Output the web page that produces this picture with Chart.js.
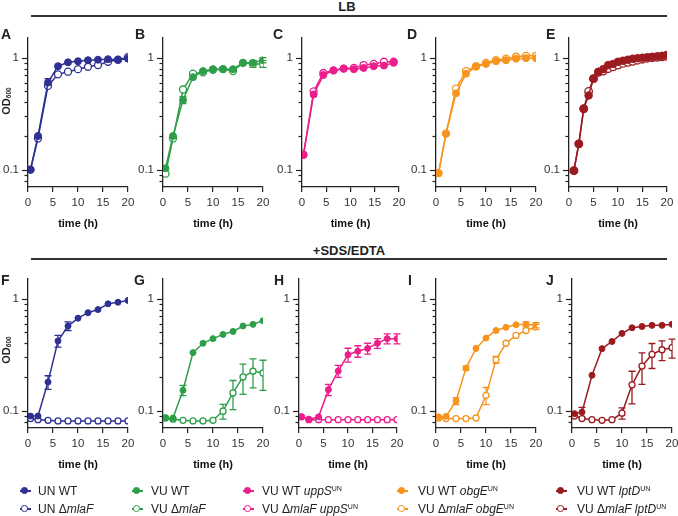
<!DOCTYPE html>
<html>
<head>
<meta charset="utf-8">
<script src="https://cdn.jsdelivr.net/npm/chart.js@4.4.1/dist/chart.umd.min.js"></script>
<style>
body{margin:0;background:#fff;font-family:"Liberation Sans",Arial,sans-serif;color:#222;}
#wrap{position:relative;width:678px;height:516px;overflow:hidden;}
canvas{position:absolute;}
.t{position:absolute;white-space:nowrap;line-height:1;}
.let{font-weight:bold;font-size:14px;}
.head{font-weight:bold;font-size:13px;width:200px;text-align:center;}
.rule{position:absolute;height:1.5px;background:#333;}
.od{position:absolute;width:44px;height:14px;line-height:14px;text-align:center;font-weight:bold;font-size:11px;transform:rotate(-90deg);}
.od sub{font-size:6.5px;vertical-align:-1px;}
.leg{font-size:12px;line-height:12px;height:12px;}
.leg sup{font-size:7px;vertical-align:4px;line-height:0;}
.mline{position:absolute;width:11px;height:1.5px;}
.mdot{position:absolute;width:4.5px;height:4.5px;border-radius:50%;border:1.3px solid;}
</style>
</head>
<body>
<div id="wrap"></div>
<script>
// tijdspunter (h)
var tStd = [0.5, 2, 4, 6, 8, 10, 12, 14, 16, 18, 20];
var tC = [0.3, 2.4, 4.4, 6.5, 8.6, 10.7, 12.7, 14.8, 16.9, 18.9];
var tE = [1, 2, 3, 4, 5, 6, 7, 8, 9, 10, 11, 12, 13, 14, 15, 16, 17, 18, 19, 20];

// LB
var A_wt  = [0.10, 0.20, 0.60, 0.84, 0.91, 0.93, 0.95, 0.96, 0.97, 0.96, 0.98];
var A_mla = [0.10, 0.19, 0.56, 0.71, 0.75, 0.79, 0.83, 0.86, 0.92, 0.96, 1.01];
var A_wtSd = [0, 0, 0.05, 0, 0, 0, 0, 0, 0, 0, 0];
var B_wt  = [0.103, 0.20, 0.42, 0.67, 0.76, 0.79, 0.79, 0.79, 0.90, 0.90, 0.95];
var B_mla = [0.092, 0.19, 0.52, 0.72, 0.74, 0.78, 0.79, 0.76, 0.90, 0.88, 0.88];
var B_wtSd = [0, 0, 0.03, 0, 0, 0, 0, 0, 0, 0.04, 0.05];
var B_mlaSd = [0, 0, 0, 0, 0, 0, 0, 0, 0, 0.06, 0.06];
var C_wt  = [0.136, 0.47, 0.70, 0.77, 0.80, 0.79, 0.81, 0.84, 0.85, 0.90];
var C_mla = [0.136, 0.50, 0.73, 0.77, 0.80, 0.81, 0.86, 0.88, 0.92, 0.92];
var D_wt  = [0.093, 0.21, 0.48, 0.72, 0.83, 0.88, 0.93, 0.95, 0.98, 0.99, 0.99];
var D_mla = [0.093, 0.21, 0.53, 0.76, 0.84, 0.90, 0.95, 0.98, 1.02, 1.04, 1.04];
var E_wt  = [0.098, 0.17, 0.35, 0.46, 0.65, 0.75, 0.79, 0.86, 0.88, 0.92, 0.94, 0.96, 0.98, 0.99, 1.00, 1.01, 1.02, 1.03, 1.04, 1.06];
var E_mla = [0.098, 0.17, 0.35, 0.50, 0.65, 0.74, 0.76, 0.80, 0.83, 0.86, 0.89, 0.91, 0.93, 0.95, 0.97, 0.99, 1.00, 1.01, 1.02, 1.03];

// +SDS/EDTA
var F_wt  = [0.0895, 0.0895, 0.18, 0.42, 0.57, 0.67, 0.75, 0.80, 0.90, 0.93, 0.965];
var F_mla = [0.085, 0.083, 0.082, 0.081, 0.081, 0.081, 0.081, 0.081, 0.081, 0.081, 0.081];
var F_wtSd = [0, 0, 0.025, 0.05, 0.05, 0, 0, 0, 0, 0, 0];
var G_wt  = [0.086, 0.086, 0.152, 0.33, 0.40, 0.44, 0.48, 0.51, 0.57, 0.59, 0.635];
var G_mla = [0.086, 0.084, 0.082, 0.081, 0.081, 0.082, 0.099, 0.144, 0.20, 0.225, 0.217];
var G_wtSd = [0, 0, 0.016, 0, 0, 0, 0, 0, 0, 0, 0];
var G_mlaSd = [0, 0, 0, 0, 0, 0, 0.015, 0.042, 0.06, 0.065, 0.065];
var H_wt  = [0.088, 0.084, 0.088, 0.154, 0.226, 0.316, 0.34, 0.36, 0.40, 0.44, 0.44];
var H_mla = [0.088, 0.083, 0.083, 0.083, 0.083, 0.083, 0.083, 0.083, 0.083, 0.083, 0.083];
var H_wtSd = [0, 0, 0, 0.018, 0.028, 0.045, 0.04, 0.04, 0.04, 0.045, 0.045];
var I_wt  = [0.088, 0.089, 0.122, 0.24, 0.36, 0.445, 0.52, 0.555, 0.585, 0.59, 0.58];
var I_mla = [0.086, 0.085, 0.085, 0.085, 0.086, 0.137, 0.285, 0.40, 0.47, 0.52, 0.56];
var I_wtSd = [0, 0, 0.009, 0.01, 0, 0, 0, 0, 0, 0.03, 0.03];
var I_mlaSd = [0, 0, 0, 0, 0, 0.024, 0.02, 0, 0, 0, 0.03];
var J_wt  = [0.094, 0.097, 0.207, 0.358, 0.415, 0.49, 0.55, 0.565, 0.578, 0.578, 0.59];
var J_mla = [0.0895, 0.085, 0.083, 0.082, 0.083, 0.095, 0.17, 0.25, 0.318, 0.35, 0.365];
var J_wtSd = [0, 0.01, 0, 0, 0, 0, 0, 0, 0, 0, 0];
var J_mlaSd = [0, 0, 0, 0, 0, 0.011, 0.055, 0.078, 0.08, 0.07, 0.07];

var yTicks = [0.08, 0.09, 0.1, 0.2, 0.3, 0.4, 0.5, 0.6, 0.7, 0.8, 0.9, 1];
var xTicks = [0, 5, 10, 15, 20];

var blue = '#2e3192', green = '#2e9f48', pink = '#ec1e8c', orange = '#f7941d', red = '#9b1b1f';

// placering af paneler
var panels = [
  {k:'A', L:28,  W:100, top:38,  t:tStd, wt:A_wt, mla:A_mla, wtSd:A_wtSd, mlaSd:null, col:blue, r:3.5},
  {k:'B', L:163, W:100, top:38,  t:tStd, wt:B_wt, mla:B_mla, wtSd:B_wtSd, mlaSd:B_mlaSd, col:green, r:3.5},
  {k:'C', L:302, W:97,  top:38,  t:tC,   wt:C_wt, mla:C_mla, wtSd:null, mlaSd:null, col:pink, r:3.5},
  {k:'D', L:436, W:100, top:38,  t:tStd, wt:D_wt, mla:D_mla, wtSd:null, mlaSd:null, col:orange, r:3.5},
  {k:'E', L:569, W:98,  top:38,  t:tE,   wt:E_wt, mla:E_mla, wtSd:null, mlaSd:null, col:red, r:3.8},
  {k:'F', L:28,  W:100, top:279, t:tStd, wt:F_wt, mla:F_mla, wtSd:F_wtSd, mlaSd:null, col:blue, r:3},
  {k:'G', L:163, W:100, top:279, t:tStd, wt:G_wt, mla:G_mla, wtSd:G_wtSd, mlaSd:G_mlaSd, col:green, r:3},
  {k:'H', L:299, W:98,  top:279, t:tStd, wt:H_wt, mla:H_mla, wtSd:H_wtSd, mlaSd:null, col:pink, r:3},
  {k:'I', L:436, W:100, top:279, t:tStd, wt:I_wt, mla:I_mla, wtSd:I_wtSd, mlaSd:I_mlaSd, col:orange, r:3},
  {k:'J', L:572, W:100, top:279, t:tStd, wt:J_wt, mla:J_mla, wtSd:J_wtSd, mlaSd:J_mlaSd, col:red, r:3}
];

var padL = 30, padR = 12, padT = 8, plotH = 149, axH = 46;
var wrap = document.getElementById('wrap');

// fejlbarer tegnes via y-skalaen
var errPlugin = {
  id: 'errbars',
  beforeDatasetsDraw: function (chart) {
    var ctx = chart.ctx, ys = chart.scales.y;
    chart.data.datasets.forEach(function (ds, i) {
      if (!ds.sd) return;
      var meta = chart.getDatasetMeta(i);
      ctx.save();
      ctx.strokeStyle = ds.borderColor;
      ctx.lineWidth = 1.3;
      meta.data.forEach(function (pt, j) {
        var e = ds.sd[j];
        if (!e) return;
        var v = ds.data[j].y;
        var y1 = ys.getPixelForValue(v + e), y2 = ys.getPixelForValue(v - e);
        ctx.beginPath();
        ctx.moveTo(pt.x, y1); ctx.lineTo(pt.x, y2);
        ctx.moveTo(pt.x - 3.5, y1); ctx.lineTo(pt.x + 3.5, y1);
        ctx.moveTo(pt.x - 3.5, y2); ctx.lineTo(pt.x + 3.5, y2);
        ctx.stroke();
      });
      ctx.restore();
    });
  }
};

// y-aksens tick-streger (lange ved 0.1 og 1)
var yTickPlugin = {
  id: 'ytickmarks',
  afterDraw: function (chart) {
    var ctx = chart.ctx, ys = chart.scales.y, x0 = chart.chartArea.left;
    ctx.save();
    ctx.strokeStyle = '#222';
    ctx.lineWidth = 1.2;
    yTicks.forEach(function (v) {
      var y = Math.round(ys.getPixelForValue(v)) + 0.5;
      var len = (v === 0.1 || v === 1) ? 6 : 3.5;
      ctx.beginPath();
      ctx.moveTo(x0 - len, y); ctx.lineTo(x0, y);
      ctx.stroke();
    });
    ctx.restore();
  }
};

function pts(t, v) {
  return t.map(function (x, i) { return {x: x, y: v[i]}; });
}

panels.forEach(function (p) {
  var cv = document.createElement('canvas');
  cv.width = padL + p.W + padR;
  cv.height = padT + plotH + axH;
  cv.style.left = (p.L - padL) + 'px';
  cv.style.top = (p.top - padT) + 'px';
  wrap.appendChild(cv);

  new Chart(cv, {
    type: 'line',
    data: {
      datasets: [{
        data: pts(p.t, p.wt), sd: p.wtSd,
        borderColor: p.col, backgroundColor: p.col,
        pointBackgroundColor: p.col, pointBorderColor: p.col,
        pointRadius: p.r, pointBorderWidth: 1, borderWidth: 1.5, tension: 0
      }, {
        data: pts(p.t, p.mla), sd: p.mlaSd,
        borderColor: p.col, backgroundColor: '#fff',
        pointBackgroundColor: '#fff', pointBorderColor: p.col,
        pointRadius: p.r, pointBorderWidth: 1.3, borderWidth: 1.5, tension: 0
      }]
    },
    options: {
      responsive: false,
      animation: false,
      devicePixelRatio: 1,
      layout: {padding: {left: 0, right: padR, top: padT, bottom: 0}},
      plugins: {legend: {display: false}, tooltip: {enabled: false}},
      scales: {
        x: {
          type: 'linear', min: 0, max: 20,
          afterBuildTicks: function (s) { s.ticks = xTicks.map(function (v) { return {value: v}; }); },
          afterFit: function (s) { s.height = axH; s.paddingLeft = 0; s.paddingRight = 0; },
          grid: {drawOnChartArea: false, drawTicks: true, tickLength: 5, color: '#222', lineWidth: 1.2},
          border: {color: '#222', width: 1.3},
          ticks: {padding: 4, color: '#333', font: {family: 'Liberation Sans', size: 11.5}, maxRotation: 0},
          title: {display: true, text: 'time (h)', color: '#111',
                  font: {family: 'Liberation Sans', size: 11, weight: 'bold'}, padding: {top: 0, bottom: 2}}
        },
        y: {
          type: 'logarithmic', min: 0.07, max: 1.5, bounds: 'data',
          afterBuildTicks: function (s) { s.ticks = yTicks.map(function (v) { return {value: v}; }); },
          afterFit: function (s) { s.width = padL; s.paddingTop = 0; s.paddingBottom = 0; },
          grid: {drawOnChartArea: false, drawTicks: false},
          border: {color: '#222', width: 1.3},
          ticks: {
            autoSkip: false, padding: 9, color: '#333',
            font: {family: 'Liberation Sans', size: 11.5},
            callback: function (v) { return v === 1 ? '1' : (v === 0.1 ? '0.1' : ''); }
          }
        }
      }
    },
    plugins: [errPlugin, yTickPlugin]
  });
});

// tekst, overskrifter og legend
function addText(cls, html, left, top) {
  var d = document.createElement('div');
  d.className = 't ' + cls;
  d.innerHTML = html;
  d.style.left = left + 'px';
  d.style.top = top + 'px';
  wrap.appendChild(d);
  return d;
}

var letters = [['A', 1, 26.5], ['B', 135, 26.5], ['C', 273, 26.5], ['D', 407, 26.5], ['E', 546, 26.5],
               ['F', 1, 273], ['G', 134, 273], ['H', 274, 273], ['I', 408, 273], ['J', 546, 273]];
letters.forEach(function (l) { addText('let', l[0], l[1], l[2]); });

addText('head', 'LB', 247, 0);
addText('head', '+SDS/EDTA', 249, 244);
[16, 259].forEach(function (y) {
  var r = document.createElement('div');
  r.className = 'rule';
  r.style.left = '31px'; r.style.width = '636px'; r.style.top = (y - 0.75) + 'px';
  wrap.appendChild(r);
});

[101, 350].forEach(function (c) {
  var d = document.createElement('div');
  d.className = 'od';
  d.innerHTML = 'OD<sub>600</sub>';
  d.style.left = (6 - 22) + 'px';
  d.style.top = (c - 7) + 'px';
  wrap.appendChild(d);
});

var legendItems = [
  [blue, 25, 38, 'UN WT', 'UN \u0394<i>mlaF</i>'],
  [green, 137, 151, 'VU WT', 'VU \u0394<i>mlaF</i>'],
  [pink, 248, 262, 'VU WT <i>uppS</i><sup>UN</sup>', 'VU \u0394<i>mlaF uppS</i><sup>UN</sup>'],
  [orange, 402, 418, 'VU WT <i>obgE</i><sup>UN</sup>', 'VU \u0394<i>mlaF obgE</i><sup>UN</sup>'],
  [red, 561, 577, 'VU WT <i>lptD</i><sup>UN</sup>', 'VU \u0394<i>mlaF lptD</i><sup>UN</sup>']
];
legendItems.forEach(function (it) {
  [[491, it[3], true], [509, it[4], false]].forEach(function (row) {
    var ln = document.createElement('div');
    ln.className = 'mline';
    ln.style.background = it[0];
    ln.style.left = (it[1] - 5.5) + 'px';
    ln.style.top = (row[0] - 0.75) + 'px';
    wrap.appendChild(ln);
    var dot = document.createElement('div');
    dot.className = 'mdot';
    dot.style.borderColor = it[0];
    dot.style.background = row[2] ? it[0] : '#fff';
    dot.style.left = (it[1] - 3.55) + 'px';
    dot.style.top = (row[0] - 3.55) + 'px';
    wrap.appendChild(dot);
    addText('leg', row[1], it[2], row[0] - 6.5);
  });
});
</script>
</body>
</html>
